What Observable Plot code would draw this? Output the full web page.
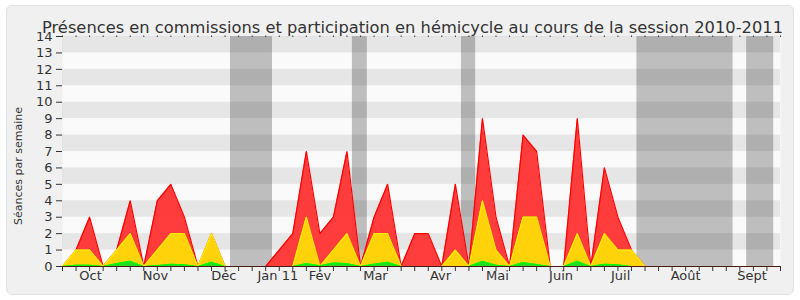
<!DOCTYPE html>
<html><head><meta charset="utf-8">
<script src="https://cdn.jsdelivr.net/npm/d3@7"></script>
<script src="https://cdn.jsdelivr.net/npm/@observablehq/plot@0.6"></script>
<style>
body{margin:0;background:#fff;}
#wrap{position:relative;width:800px;height:300px;overflow:hidden;}
#bg{position:absolute;left:6px;top:5px;width:786px;height:288px;background:#f0f0f0;border:1px solid #e2e2e2;border-radius:6px;}
#chart{position:absolute;left:0;top:0;}
#ylab{position:absolute;left:18px;top:166px;transform:translate(-50%,-50%) rotate(-90deg);white-space:nowrap;font:11px "DejaVu Sans";color:#333;}
</style></head><body>
<div id="wrap"><div id="bg"></div><div id="chart"></div><div id="ylab"></div></div>
<script>
const title = "Présences en commissions et participation en hémicycle au cours de la session 2010-2011";
const yLabel = "Séances par semaine";

const weeks = d3.range(54);
const seriesRed =    [0,1,3,0,1,4,0,4,5,3,0,2,0,0,0,0,1,2,7,2,3,7,0,3,5,0,2,2,0,5,0,9,3,0,8,7,0,0,9,0,6,3,1,0,0,0,0,0,0,0,0,0,0,0];
const seriesYellow = [0,1,1,0,1,2,0,1,2,2,0,2,0,0,0,0,0,0,3,0,1,2,0,2,2,0,0,0,0,1,0,4,1,0,3,3,0,0,2,0,2,1,1,0,0,0,0,0,0,0,0,0,0,0];
const seriesGreen =  [0,0.08,0.08,0,0.18,0.32,0,0.06,0.14,0.1,0,0.26,0,0,0,0,0,0,0.18,0.05,0.22,0.18,0,0.14,0.26,0,0,0,0,0,0,0.32,0.08,0,0.24,0.12,0,0,0.32,0,0.14,0.1,0,0,0,0,0,0,0,0,0,0,0,0];

const vacStart = [12.4, 21.4, 29.45, 42.4, 50.5];
const vacEnd   = [15.5, 22.5, 30.5, 49.5, 52.5];

const monthLabels = ["Oct","Nov","Déc","Jan 11","Fév","Mar","Avr","Mai","Juin","Juil","Août","Sept"];
const monthPos    = [2.07, 6.86, 11.9, 15.9, 19.0, 23.1, 27.9, 32.1, 36.8, 41.2, 46.0, 50.9];

const yTicks = [0,1,2,3,4,5,6,7,8,9,10,11,12,13,14];
const stripeLow = [1,3,5,7,9,11,13];

const data = weeks.map((w, i) => ({week: w, red: seriesRed[i], yellow: seriesYellow[i], green: seriesGreen[i]}));
const vacations = vacStart.map((s, i) => ({x1: s, x2: vacEnd[i]}));
const stripes = stripeLow.map(k => ({y1: k, y2: k + 1}));
const months = monthLabels.map((m, i) => ({label: m, x: monthPos[i]}));

const chart = Plot.plot({
  width: 800, height: 300,
  marginLeft: 62, marginRight: 20, marginTop: 36, marginBottom: 34,
  x: {domain: [0, 53]},
  y: {domain: [0, 14]},
  style: {background: "transparent", fontFamily: "DejaVu Sans", fontSize: "13px", color: "#333", overflow: "visible"},
  marks: [
    Plot.frame({fill: "#fafafa", stroke: null}),
    Plot.rect(vacations, {x1: "x1", x2: "x2", fill: "#bebebe"}),
    Plot.rect(stripes, {y1: "y1", y2: "y2", fill: "#000", fillOpacity: 0.08}),
    Plot.areaY(data, {x: "week", y: "red", fill: "#ff3333", fillOpacity: 0.95}),
    Plot.lineY(data, {x: "week", y: "red", stroke: "#ff0000", strokeWidth: 1.2}),
    Plot.areaY(data, {x: "week", y: "yellow", fill: "#ffd20a"}),
    Plot.lineY(data, {x: "week", y: "yellow", stroke: "#ffee00", strokeWidth: 1.2}),
    Plot.areaY(data, {x: "week", y: "green", fill: "#22dd22"}),
    Plot.lineY(data, {x: "week", y: "green", stroke: "#00ff00", strokeWidth: 1}),
    Plot.ruleY([0], {stroke: "#4a1a10", strokeWidth: 1}),
    Plot.axisX({anchor: "bottom", ticks: weeks, tickSize: 5, tickFormat: () => "", stroke: "#333"}),
    Plot.axisX({anchor: "top", ticks: weeks, tickSize: 1.5, tickFormat: () => "", stroke: "#333"}),
    Plot.axisY({ticks: yTicks, tickSize: 6, tickFormat: () => "", label: null, stroke: "#333"}),
    Plot.text(yTicks, {y: d => d, text: d => String(d), frameAnchor: "left", dx: -10, textAnchor: "end", fontSize: 13, fill: "#333"}),
    Plot.text(months, {x: "x", text: "label", frameAnchor: "bottom", dy: 13, fontSize: 13, fill: "#333"}),
    Plot.text([title], {frameAnchor: "top", dx: -9, dy: -15, fontSize: 16.3, fill: "#333"})
  ]
});
document.getElementById("chart").appendChild(chart);
document.getElementById("ylab").textContent = yLabel;
</script>
</body></html>
